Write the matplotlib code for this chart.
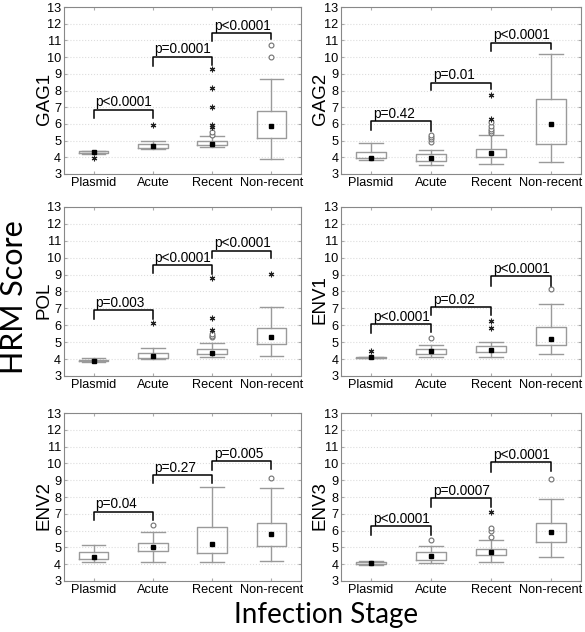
import matplotlib
matplotlib.use("Agg")
import matplotlib.pyplot as plt

# ---- data (HRM score per infection stage) ----
STAGES = ["Plasmid", "Acute", "Recent", "Non-recent"]
REGIONS = ["GAG1", "GAG2", "POL", "ENV1", "ENV2", "ENV3"]

# box stats per region, one value per stage
Q1 = {
    "GAG1": [4.25, 4.58, 4.73, 5.17],
    "GAG2": [3.97, 3.78, 4.02, 4.79],
    "POL":  [3.87, 4.04, 4.30, 4.91],
    "ENV1": [4.08, 4.32, 4.44, 4.81],
    "ENV2": [4.33, 4.81, 4.69, 5.09],
    "ENV3": [3.99, 4.25, 4.53, 5.35],
}
MED = {
    "GAG1": [4.31, 4.68, 4.82, 5.86],
    "GAG2": [3.97, 3.97, 4.24, 6.02],
    "POL":  [3.90, 4.18, 4.38, 5.31],
    "ENV1": [4.11, 4.48, 4.51, 5.17],
    "ENV2": [4.45, 5.02, 5.19, 5.78],
    "ENV3": [4.10, 4.47, 4.73, 5.92],
}
Q3 = {
    "GAG1": [4.35, 4.80, 4.98, 6.77],
    "GAG2": [4.32, 4.22, 4.50, 7.48],
    "POL":  [3.93, 4.34, 4.62, 5.84],
    "ENV1": [4.12, 4.59, 4.77, 5.88],
    "ENV2": [4.75, 5.29, 6.24, 6.48],
    "ENV3": [4.13, 4.71, 4.93, 6.48],
}
WLO = {
    "GAG1": [4.22, 4.52, 4.59, 3.92],
    "GAG2": [3.86, 3.54, 3.58, 3.74],
    "POL":  [3.84, 3.98, 4.10, 4.20],
    "ENV1": [4.08, 4.14, 4.14, 4.30],
    "ENV2": [4.15, 4.15, 4.11, 4.19],
    "ENV3": [3.97, 4.09, 4.15, 4.41],
}
WHI = {
    "GAG1": [4.40, 5.00, 5.30, 8.67],
    "GAG2": [4.88, 4.44, 5.33, 10.18],
    "POL":  [4.05, 4.67, 4.97, 7.07],
    "ENV1": [4.12, 4.83, 5.03, 7.25],
    "ENV2": [5.15, 5.94, 8.57, 8.51],
    "ENV3": [4.17, 5.09, 5.45, 7.91],
}
# outliers (open circles) and extremes (asterisks)
OUTL = {
    "GAG1": [[], [], [5.35, 5.5], [10.02, 10.73]],
    "GAG2": [[], [4.93, 5.07, 5.2, 5.33], [5.43, 5.56, 5.72, 5.9, 6.1], []],
    "POL":  [[], [], [5.3, 5.38, 5.46], []],
    "ENV1": [[], [5.27], [], [8.14]],
    "ENV2": [[], [6.32], [], [9.14]],
    "ENV3": [[], [5.45], [5.64, 6.0, 6.14], [9.06]],
}
EXTR = {
    "GAG1": [[3.98], [5.92], [5.8, 5.95, 7.0, 8.15, 9.3], []],
    "GAG2": [[], [], [6.3, 7.72], []],
    "POL":  [[], [6.14], [5.74, 6.45, 8.77], [9.03]],
    "ENV1": [[4.45], [], [5.84, 6.24], []],
    "ENV2": [[], [], [], []],
    "ENV3": [[], [], [7.1], []],
}
# significance brackets: (left stage, right stage, bar y, left leg end, right leg end, label)
BRACKETS = {
    "GAG1": [(1, 2, 6.85, 6.38, 6.38, "p<0.0001"), (2, 3, 10.02, 9.48, 9.5, "p=0.0001"),
             (3, 4, 11.45, 10.95, 11.07, "p<0.0001")],
    "GAG2": [(1, 2, 6.16, 5.66, 5.56, "p=0.42"), (2, 3, 8.47, 8.02, 8.1, "p=0.01"),
             (3, 4, 10.87, 10.38, 10.47, "p<0.0001")],
    "POL":  [(1, 2, 6.91, 6.38, 6.38, "p=0.003"), (2, 3, 9.56, 9.09, 9.05, "p<0.0001"),
             (3, 4, 10.42, 9.98, 9.98, "p<0.0001")],
    "ENV1": [(1, 2, 6.08, 5.52, 5.62, "p<0.0001"), (2, 3, 7.09, 6.61, 6.61, "p=0.02"),
             (3, 4, 8.89, 8.34, 8.34, "p<0.0001")],
    "ENV2": [(1, 2, 7.12, 6.64, 6.64, "p=0.04"), (2, 3, 9.3, 8.82, 8.82, "p=0.27"),
             (3, 4, 10.12, 9.62, 9.68, "p=0.005")],
    "ENV3": [(1, 2, 6.28, 5.74, 5.74, "p<0.0001"), (2, 3, 7.93, 7.39, 7.43, "p=0.0007"),
             (3, 4, 10.06, 9.46, 9.52, "p<0.0001")],
}

GREY = "#9a9a9a"
ARIAL = "Liberation Sans"

fig = plt.figure(figsize=(5.85, 6.32), dpi=100)
# axes rectangles (figure fraction): two columns x three rows
cols = [(0.1094, 0.4051), (0.5830, 0.4102)]
rows = [(0.7247, 0.2642), (0.4051, 0.2674), (0.0807, 0.2658)]

for k, reg in enumerate(REGIONS):
    x0, w = cols[k % 2]
    y0, h = rows[k // 2]
    ax = fig.add_axes([x0, y0, w, h])
    pos = [1, 2, 3, 4]
    stats = []
    for i in range(4):
        stats.append(dict(med=MED[reg][i], q1=Q1[reg][i], q3=Q3[reg][i],
                          whislo=WLO[reg][i], whishi=WHI[reg][i], fliers=[]))
    ax.bxp(stats, positions=pos, widths=0.5, capwidths=0.4, showfliers=False,
           boxprops=dict(color=GREY, lw=1.0),
           whiskerprops=dict(color=GREY, lw=1.0),
           capprops=dict(color=GREY, lw=1.0),
           medianprops=dict(lw=0))
    ax.plot(pos, MED[reg], ls="none", marker="s", ms=2.8, color="black", zorder=4)
    for i in range(4):
        if OUTL[reg][i]:
            ax.plot([pos[i]] * len(OUTL[reg][i]), OUTL[reg][i], ls="none", marker="o",
                    ms=3.5, mfc="white", mec="#707070", mew=0.8, zorder=3)
        if EXTR[reg][i]:
            ax.plot([pos[i]] * len(EXTR[reg][i]), EXTR[reg][i], ls="none", marker=(6, 2, 0),
                    ms=4, color="#202020", mew=0.8, zorder=3)
    for a, b, yb, yl, yr, lab in BRACKETS[reg]:
        ax.plot([a, a, b, b], [yl, yb, yb, yr], color="black", lw=1.1, zorder=5)
        ax.text(a + 0.03, yb + 0.02, lab, ha="left", va="bottom", fontsize=9.8,
                family=ARIAL, zorder=6)

    ax.set_xlim(0.5, 4.5)
    ax.set_ylim(3, 13)
    ax.set_yticks(range(3, 14))
    ax.set_xticks(pos)
    ax.set_xticklabels(STAGES)
    ax.grid(axis="y", color="#dddddd", ls=":", lw=0.8)
    ax.set_axisbelow(True)
    for s in ax.spines.values():
        s.set_color("#888888")
        s.set_linewidth(0.8)
    ax.tick_params(direction="in", length=2, color="#aaaaaa", labelsize=9.2, pad=2,
                   top=True, right=True)
    for t in ax.get_xticklabels() + ax.get_yticklabels():
        t.set_family(ARIAL)
    ax.set_ylabel(reg, fontsize=13.5, family=ARIAL)
    ax.yaxis.set_label_coords(-0.048 if k % 2 == 0 else -0.052, 0.45)

fig.text(0.024, 0.53, "HRM Score", rotation=90, ha="center", va="center",
         fontsize=22, family="Lato")
fig.text(0.557, 0.027, "Infection Stage", ha="center", va="center",
         fontsize=20, family="Lato")

fig.savefig("out.png", dpi=100)
